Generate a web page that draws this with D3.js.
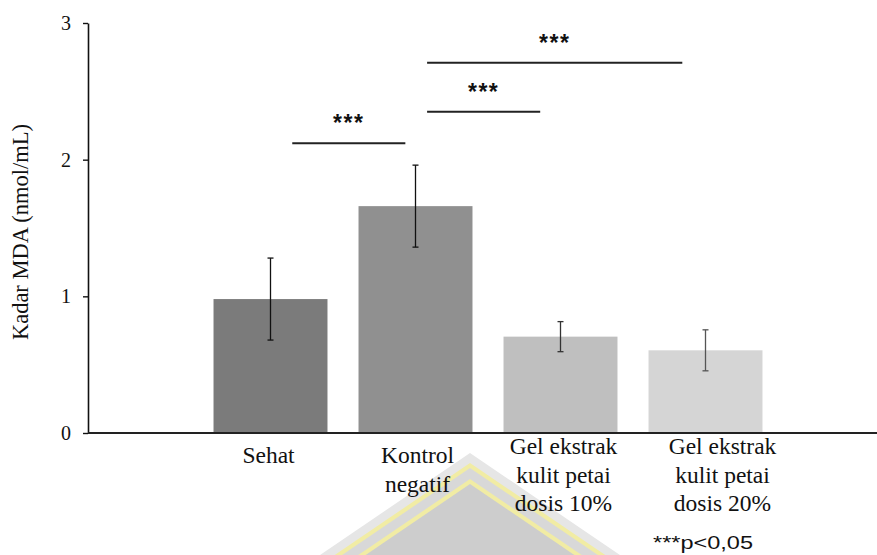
<!DOCTYPE html>
<html>
<head>
<meta charset="utf-8">
<script src="https://cdn.jsdelivr.net/npm/d3@7"></script>
<style>
  body { margin: 0; background: #fff; }
  svg { display: block; }
  .serif { font-family: 'Liberation Serif', 'Tinos', 'Times New Roman', 'DejaVu Serif', serif; }
  .sans { font-family: 'Liberation Sans', Arial, 'DejaVu Sans', sans-serif; }
</style>
</head>
<body>
<div id="chart"></div>
<script>
// Data
var categories = ['Sehat', 'Kontrol negatif', 'Gel ekstrak kulit petai dosis 10%', 'Gel ekstrak kulit petai dosis 20%'];
var labelLines = [['Sehat'], ['Kontrol', 'negatif'], ['Gel ekstrak', 'kulit petai', 'dosis 10%'], ['Gel ekstrak', 'kulit petai', 'dosis 20%']];
var means = [0.98, 1.66, 0.705, 0.605];
var errors = [0.30, 0.30, 0.11, 0.15];
var yTicks = [0, 1, 2, 3];

// significance brackets (category index from / to, height in data units)
var sigFrom = [0.15, 1.08, 1.08];
var sigTo = [0.93, 1.86, 2.84];
var sigLevel = [2.12, 2.35, 2.71];
var sigText = ['***', '***', '***'];

var barColors = ['#7b7b7b', '#909090', '#bfbfbf', '#d5d5d5'];
var errColors = ['#111', '#111', '#333', '#555'];
var labelShift = [-2, 2, 3, 17];
var labelTop = [463, 463, 454, 454];

var width = 877;
var height = 555;

var svg = d3.select('#chart').append('svg')
  .attr('width', width)
  .attr('height', height);

var x = d3.scaleBand()
  .domain(categories)
  .range([198, 778])
  .paddingInner(0.214)
  .paddingOuter(0.107);

var y = d3.scaleLinear()
  .domain([0, 3])
  .range([433, 23]);

// category index -> pixel, for the brackets
var xi = d3.scaleLinear()
  .domain([0, categories.length - 1])
  .range([x(categories[0]) + x.bandwidth() / 2, x(categories[categories.length - 1]) + x.bandwidth() / 2]);

// faint watermark (logo) behind the labels
var wm = svg.append('g').attr('class', 'watermark');
var apexX = 470, slope = 1.47;
var layers = [
  { top: 453, fill: '#e6e6e6' },
  { top: 463, fill: '#f1eca4' },
  { top: 468, fill: '#d8d8d8' },
  { top: 479, fill: '#f1eca4' },
  { top: 484, fill: '#cdcdcd' }
];
layers.forEach(function(l) {
  var d = height + 5 - l.top;
  wm.append('path')
    .attr('d', 'M' + (apexX - d * slope) + ',' + (height + 5) + 'L' + apexX + ',' + l.top + 'L' + (apexX + d * slope) + ',' + (height + 5) + 'Z')
    .attr('fill', l.fill);
});

// bars
svg.append('g').selectAll('rect')
  .data(means)
  .enter().append('rect')
  .attr('x', function(d, i) { return x(categories[i]); })
  .attr('y', function(d) { return y(d); })
  .attr('width', x.bandwidth())
  .attr('height', function(d) { return y(0) - y(d); })
  .attr('fill', function(d, i) { return barColors[i]; });

// error bars
var eb = svg.append('g').selectAll('g')
  .data(means)
  .enter().append('g')
  .attr('stroke', function(d, i) { return errColors[i]; })
  .attr('stroke-width', 1.3);

eb.append('line')
  .attr('x1', function(d, i) { return x(categories[i]) + x.bandwidth() / 2; })
  .attr('x2', function(d, i) { return x(categories[i]) + x.bandwidth() / 2; })
  .attr('y1', function(d, i) { return y(d + errors[i]); })
  .attr('y2', function(d, i) { return y(d - errors[i]); });

[1, -1].forEach(function(sign) {
  eb.append('line')
    .attr('x1', function(d, i) { return x(categories[i]) + x.bandwidth() / 2 - 3; })
    .attr('x2', function(d, i) { return x(categories[i]) + x.bandwidth() / 2 + 3; })
    .attr('y1', function(d, i) { return y(d + sign * errors[i]); })
    .attr('y2', function(d, i) { return y(d + sign * errors[i]); });
});

// y axis
var yAxis = svg.append('g')
  .attr('transform', 'translate(88,0)')
  .call(d3.axisLeft(y).tickValues(yTicks).tickFormat(d3.format('d')).tickSize(5).tickPadding(12).tickSizeOuter(0));
yAxis.attr('font-family', null).attr('font-size', null);
yAxis.select('.domain').attr('stroke', '#111').attr('stroke-width', 1.6);
yAxis.selectAll('.tick line').attr('stroke', '#111').attr('stroke-width', 1.4);
yAxis.selectAll('.tick text')
  .attr('class', 'serif')
  .style('font-size', '20px')
  .attr('fill', '#111');

// x axis line
svg.append('line')
  .attr('x1', 88).attr('x2', width)
  .attr('y1', y(0)).attr('y2', y(0))
  .attr('stroke', '#222')
  .attr('stroke-width', 2);

// category labels
var lbl = svg.append('g').selectAll('text')
  .data(labelLines)
  .enter().append('text')
  .attr('class', 'serif')
  .style('font-size', '23.5px')
  .attr('fill', '#111')
  .attr('text-anchor', 'middle')
  .attr('y', function(d, i) { return labelTop[i]; });

lbl.selectAll('tspan')
  .data(function(d, i) { return d.map(function(t) { return { t: t, i: i }; }); })
  .enter().append('tspan')
  .attr('x', function(d) { return x(categories[d.i]) + x.bandwidth() / 2 + labelShift[d.i]; })
  .attr('dy', function(d, j) { return j === 0 ? 0 : 28.5; })
  .text(function(d) { return d.t; });

// y axis title
svg.append('text')
  .attr('class', 'serif')
  .attr('transform', 'translate(28,' + 232 + ') rotate(-90)')
  .attr('text-anchor', 'middle')
  .style('font-size', '22.5px')
  .attr('fill', '#111')
  .text('Kadar MDA (nmol/mL)');

// significance brackets
var sig = svg.append('g').selectAll('g')
  .data(sigLevel)
  .enter().append('g');

sig.append('line')
  .attr('x1', function(d, i) { return xi(sigFrom[i]); })
  .attr('x2', function(d, i) { return xi(sigTo[i]); })
  .attr('y1', function(d) { return y(d); })
  .attr('y2', function(d) { return y(d); })
  .attr('stroke', '#222')
  .attr('stroke-width', 2);

sig.append('text')
  .attr('class', 'sans')
  .attr('x', function(d, i) { return (xi(sigFrom[i]) + xi(sigTo[i])) / 2; })
  .attr('y', function(d) { return y(d) - 12; })
  .attr('text-anchor', 'middle')
  .style('font-weight', 'bold')
  .style('font-size', '23px')
  .style('letter-spacing', '1.5px')
  .attr('fill', '#111')
  .text(function(d, i) { return sigText[i]; });

// footnote
svg.append('text')
  .attr('class', 'sans')
  .attr('x', 653)
  .attr('y', 549)
  .style('font-size', '19px')
  .attr('textLength', 100)
  .attr('lengthAdjust', 'spacingAndGlyphs')
  .attr('fill', '#111')
  .text('***p<0,05');
</script>
</body>
</html>
